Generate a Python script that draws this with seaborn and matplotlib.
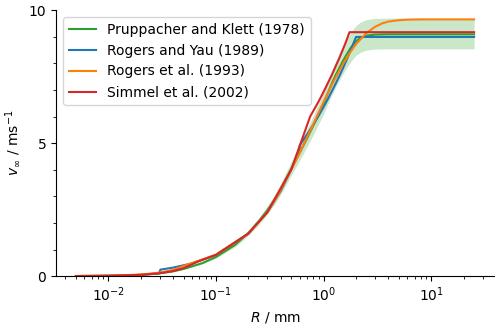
import numpy as np
import pandas as pd
import seaborn as sns
import matplotlib
matplotlib.use("Agg")
import matplotlib.pyplot as plt
from matplotlib.ticker import MultipleLocator

# radius in mm, terminal velocity in m/s
r_pk = [0.005, 0.01, 0.02, 0.03, 0.04, 0.05, 0.075, 0.1, 0.15, 0.2, 0.25, 0.3, 0.35,
        0.4, 0.45, 0.5, 0.6, 0.7, 0.8, 0.9, 1.0, 1.1, 1.2, 1.3, 1.4, 1.5, 1.6, 1.7,
        1.8, 1.9, 2.0, 2.2, 2.5, 3.0, 4.0, 25.0]
v_pk = [0.003, 0.012, 0.047, 0.104, 0.18, 0.27, 0.49, 0.72, 1.17, 1.62, 2.06, 2.47, 2.87,
        3.27, 3.67, 4.03, 4.64, 5.17, 5.65, 6.09, 6.49, 6.90, 7.27, 7.57, 7.82, 8.06, 8.26, 8.44,
        8.60, 8.72, 8.83, 8.95, 9.04, 9.08, 9.09, 9.09]
v_pk_hi = [0.0032, 0.0128, 0.050, 0.111, 0.192, 0.288, 0.523, 0.768, 1.248, 1.729, 2.198, 2.635, 3.062,
           3.489, 3.916, 4.300, 4.951, 5.516, 6.029, 6.498, 6.925, 7.362, 7.757, 8.077, 8.344, 8.600, 8.813, 9.005,
           9.176, 9.304, 9.422, 9.550, 9.646, 9.688, 9.699, 9.699]
v_pk_lo = [0.0028, 0.0113, 0.044, 0.098, 0.169, 0.254, 0.461, 0.677, 1.100, 1.523, 1.936, 2.322, 2.698,
           3.074, 3.450, 3.788, 4.362, 4.860, 5.311, 5.725, 6.101, 6.486, 6.834, 7.116, 7.351, 7.576, 7.764, 7.934,
           8.084, 8.197, 8.300, 8.413, 8.498, 8.535, 8.545, 8.545]

r_ry = [0.005, 0.01, 0.02, 0.0295, 0.0305, 0.04, 0.06, 0.1, 0.2, 0.3, 0.4, 0.5, 0.599, 0.601,
        0.7, 0.8, 0.9, 1.0, 1.1, 1.25, 1.4, 1.5, 1.6, 1.75, 1.8, 2.0, 25.0]
v_ry = [0.003, 0.0119, 0.0476, 0.104, 0.244, 0.32, 0.48, 0.8, 1.6, 2.4, 3.2, 4.0, 4.79, 4.92,
        5.32, 5.69, 6.03, 6.36, 6.67, 7.11, 7.52, 7.78, 8.04, 8.41, 8.53, 8.99, 8.99]

r_ro = [0.005, 0.01, 0.02, 0.03, 0.04, 0.0545, 0.1, 0.2, 0.3, 0.3725, 0.5, 0.6, 0.75, 1.0,
        1.25, 1.5, 1.75, 2.0, 2.5, 3.0, 3.5, 4.0, 5.0, 6.0, 8.0, 25.0]
v_ro = [0.0037, 0.0147, 0.0587, 0.132, 0.235, 0.436, 0.8, 1.6, 2.4, 3.0, 4.0, 4.64, 5.46, 6.55,
        7.35, 7.95, 8.39, 8.72, 9.14, 9.37, 9.50, 9.57, 9.62, 9.64, 9.65, 9.65]

r_si = [0.005, 0.01, 0.02, 0.03, 0.04, 0.05, 0.067, 0.1, 0.2, 0.3, 0.5, 0.75, 0.9, 1.0,
        1.2, 1.4, 1.6, 1.74, 25.0]
v_si = [0.003, 0.012, 0.048, 0.108, 0.192, 0.30, 0.536, 0.8, 1.6, 2.4, 4.0, 6.0, 6.57, 6.93,
        7.59, 8.20, 8.77, 9.17, 9.17]

series = [
    ("Pruppacher and Klett (1978)", r_pk, v_pk, "tab:green"),
    ("Rogers and Yau (1989)", r_ry, v_ry, "tab:blue"),
    ("Rogers et al. (1993)", r_ro, v_ro, "tab:orange"),
    ("Simmel et al. (2002)", r_si, v_si, "tab:red"),
]

fig, ax = plt.subplots(figsize=(5, 3.26), dpi=100)

ax.fill_between(r_pk, v_pk_lo, v_pk_hi, color="tab:green", alpha=0.25, linewidth=0)
for name, r, v, c in series:
    sns.lineplot(x=r, y=v, color=c, label=name, ax=ax, linewidth=1.5)

ax.set_xscale("log")
ax.set_ylim(0, 10)
ax.yaxis.set_major_locator(MultipleLocator(5))
ax.yaxis.set_minor_locator(MultipleLocator(1))
ax.set_xlabel("$R$ / mm")
ax.set_ylabel(r"$v_\infty$ / ms$^{-1}$")
ax.legend(loc="upper left")
sns.despine(ax=ax)

fig.subplots_adjust(left=0.112, right=0.988, bottom=0.153, top=0.969)
fig.savefig("out.png", dpi=100)
